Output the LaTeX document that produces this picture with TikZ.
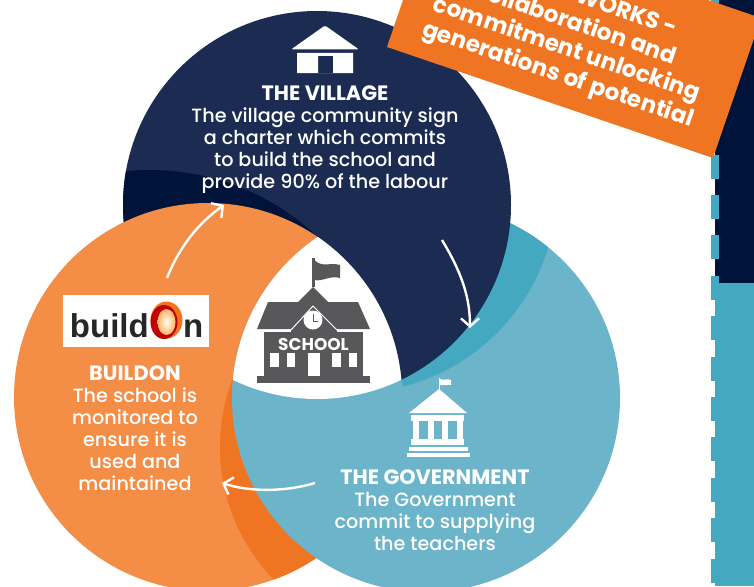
\documentclass[tikz,border=0pt]{standalone}
\usepackage{fontspec}
\setmainfont{Poppins Medium}[BoldFont=Poppins Bold]
\newfontfamily\logofont{Liberation Sans}[Scale=1]
\usetikzlibrary{arrows.meta}
\definecolor{navy}{HTML}{1B2B52}
\definecolor{navydark}{HTML}{00143A}
\definecolor{teallight}{HTML}{6CB4C9}
\definecolor{tealdark}{HTML}{43A8C0}
\definecolor{orangelight}{HTML}{F48D45}
\definecolor{orangedark}{HTML}{F07522}
\definecolor{icongray}{HTML}{58585A}
\def\villagecircle{(317,205) circle (194)}
\def\govcircle{(426,398) circle (194)}
\def\buildcircle{(208,397) circle (194)}
\newcommand{\headtext}[1]{{\bfseries\fontsize{20.8}{22}\selectfont #1}}

\begin{document}
\begin{tikzpicture}[x=1pt, y=-1pt,
	line/.style={->, >={Straight Barb[length=8pt,width=18pt]}, white, line width=2.4pt},
	body/.style={white, align=center, font=\fontsize{19.2}{22}\selectfont},
	logotext/.style={font=\logofont\bfseries\fontsize{33}{33}\selectfont, black!85, inner sep=0pt},
	sidedash/.style={fill=tealdark}]

	\useasboundingbox (0,0) rectangle (754,586);
	\clip (0,0) rectangle (754,586);
	\fill[white] (0,0) rectangle (754,586);

	% side panels
	\fill[navydark] (715,0) rectangle (754,283);
	\fill[tealdark] (715,283) rectangle (754,586);
	\foreach \i in {0,...,14}
		\fill[sidedash] (711,{-7+40.4*\i}) rectangle ++(7.5,24);

	% circles
	\fill[teallight] \govcircle;
	\begin{scope}
		\clip \govcircle;
		\fill[tealdark] (352,188) circle (205);
	\end{scope}
	\fill[navy] \villagecircle;
	\begin{scope}
		\clip \villagecircle;
		\fill[navydark] (150,413) circle (243);
	\end{scope}
	\fill[orangelight] \buildcircle;
	\begin{scope}
		\clip \buildcircle;
		\fill[orangedark] (410,447) circle (190);
	\end{scope}
	\begin{scope}
		\clip \buildcircle;
		\fill[teallight] \govcircle;
		\clip \govcircle;
		\fill[white] \villagecircle;
	\end{scope}
	\begin{scope}
		\clip \govcircle;
		\clip (200,383) rectangle (420,586);
		\draw[teallight, line width=1.5pt] \buildcircle;
	\end{scope}

	% banner
	\fill[orangedark] (387,47) -- (434.7,-93) -- (761,18) -- (713,158) -- cycle;
	\node[white, font=\bfseries\fontsize{23}{27}\selectfont, rotate=-18.8, align=center] (banner) at (570.5,38)
		{HOW IT WORKS -\\collaboration and\\commitment unlocking\\generations of potential};

	% house
	\fill[white, rounded corners=1.5pt] (291,49.5) -- (325,25.5) -- (359,49.5) -- cycle;
	\fill[white, even odd rule] (297,53) rectangle (353,73) (318,56) rectangle (333,73);

	% school
	\begin{scope}[icongray]
		\fill (257,376) rectangle (370,383);
		\fill (264,332) rectangle (363,376);
		\fill (257,329) -- (268,302) -- (298,302) -- (313,287) -- (328,302) -- (358,302) -- (370,329) -- cycle;
		\fill (291,329) rectangle (337,333);
		\fill (312,258) rectangle (314.5,287);
		\fill (314.5,260) .. controls (322,268) and (330,262) .. (340,265) -- (340,278) .. controls (330,275) and (322,282) .. (314.5,280) -- cycle;
	\end{scope}
	\draw[white, line width=1pt] (291,330) -- (313,306) -- (337,330);
	\fill[white] (313,320) circle (9.5);
	\draw[icongray, line width=.8pt] (313,314) -- (313,321) -- (318,321);
	\foreach \wx in {270.3,287,332.3,348.7}
		\fill[white] (\wx,353.3) rectangle ++(8.3,14);
	\fill[white] (307.7,353.3) rectangle (320,375.7);
	\node[white, font=\bfseries\fontsize{17}{17}\selectfont, inner sep=0pt] (school) at (313.5,345) {SCHOOL};

	% government building
	\begin{scope}[white]
		\fill (438.5,378) rectangle (439.8,390);
		\fill (439.8,379) .. controls (444,381) and (447,378) .. (451,380) -- (451,385) .. controls (447,384) and (444,386) .. (439.8,385) -- cycle;
		\fill (439,389) -- (409,413) -- (467,413) -- cycle;
		\fill (411,415) rectangle (464,421);
		\foreach \cx in {413,427.5,442,457}
			\fill (\cx,421) rectangle ++(6,18);
		\fill (411,439) rectangle (464,445);
		\fill (409,447) rectangle (468,451);
		\fill (407,453) rectangle (470,457);
	\end{scope}

	% logo
	\fill[white] (63,295) rectangle (209,347);
	\node[logotext, anchor=base east] (logobuild) at (149,337) {build};
	\node[logotext, anchor=base west] (logon) at (183,337) {n};
	\fill[orangedark] (166.5,320) ellipse (16 and 18.5);
	\fill[red!75!black] (164,322) ellipse (13.5 and 17);
	\shade[inner color=yellow!5, outer color=orange!60] (166.5,322) ellipse (9 and 13);

	% texts
	\node[body] (village) at (325,140) {\headtext{THE VILLAGE}\\The village community sign\\a charter which commits\\to build the school and\\provide 90\% of the labour};
	\node[body] (gov) at (435,510.5) {\headtext{THE GOVERNMENT}\\The Government\\commit to supplying\\the teachers};
	\node[body] (build) at (135,428.5) {\headtext{BUILDON}\\The school is\\monitored to\\ensure it is\\used and\\maintained};

	% arrows
	\coordinate (a0) at (167,278);
	\coordinate (a1) at (224,205);
	\coordinate (b0) at (442,240);
	\coordinate (b1) at (470,328);
	\coordinate (c0) at (315,483);
	\coordinate (c1) at (222,483);
	\draw[line] (a0) .. controls (180,245) and (200,222) .. (a1);
	\draw[line] (b0) .. controls (460,270) and (470,295) .. (b1);
	\draw[line] (c0) .. controls (285,492) and (250,492) .. (c1);

\end{tikzpicture}
\end{document}
